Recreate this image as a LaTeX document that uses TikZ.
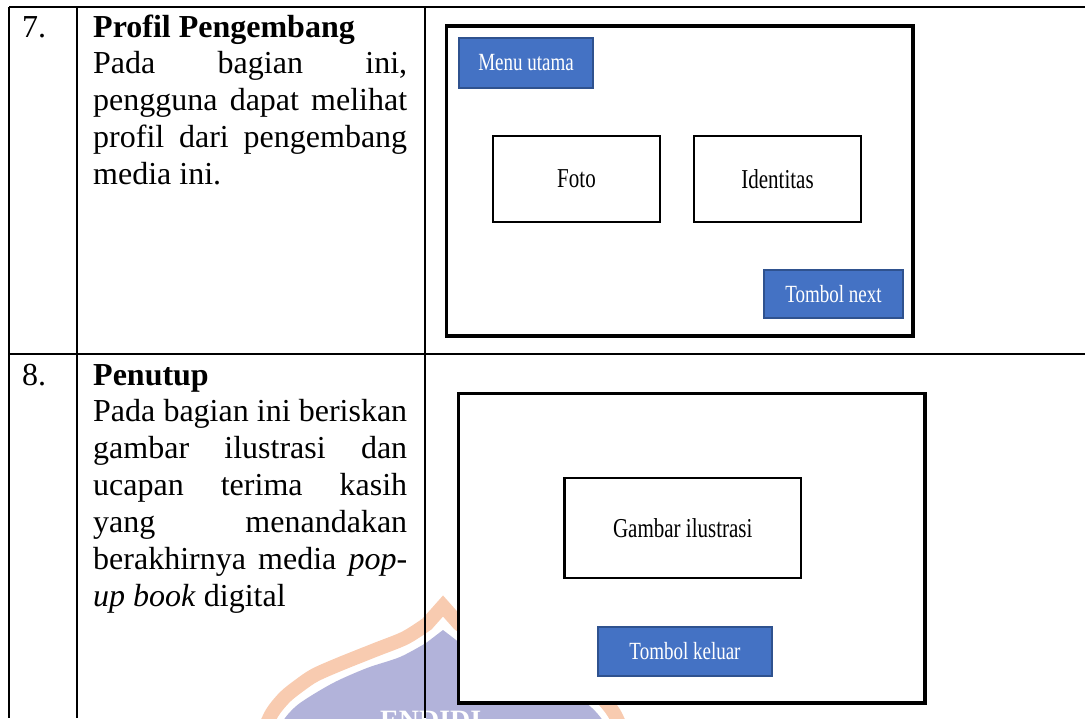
\documentclass[tikz,border=0pt]{standalone}
\usepackage{fontspec}
\setmainfont{Liberation Serif}
\definecolor{btnblue}{HTML}{4472C4}
\definecolor{btnedge}{HTML}{2F528F}
\definecolor{wmorange}{HTML}{F8CBB0}
\definecolor{wmpurple}{HTML}{B2B3DA}
\newcommand\vstretch[1]{\scalebox{1}[1.3]{#1}}
\newcommand\jline[1]{\makebox[314pt][s]{#1}}
\tikzset{
  grid line/.style={line width=2pt, black},
  frame/.style={draw=black, line width=3.6pt, fill=white, inner sep=0pt},
  whitebox/.style={draw=black, line width=2.2pt, fill=white, inner sep=0pt,
    font=\fontsize{21}{24}\selectfont},
  btn/.style={draw=btnedge, line width=1.5pt, fill=btnblue, text=white, inner sep=0pt,
    font=\fontsize{19}{22}\selectfont},
  body/.style={anchor=base west, inner sep=0pt, font=\fontsize{32}{36.8}\selectfont},
}
\begin{document}
\begin{tikzpicture}[x=1pt,y=-1pt]
\useasboundingbox (0,0) rectangle (1085,718);
% watermark (partly visible logo)
\begin{scope}
  \clip (0,0) rectangle (1085,718);
  \fill[wmpurple] plot[smooth] coordinates {(276,735) (285,718) (300,703) (333,683) (367,668) (400,657) (426,643)}
    -- (443,630) -- plot[smooth] coordinates {(460,643) (486,657) (519,668) (553,683) (586,703) (601,718) (610,735)} -- cycle;
  \draw[wmorange, line width=14pt, line join=miter] plot[smooth] coordinates {(262,735) (272,713) (285,697) (300,685) (315,675) (340,664) (375,650) (405,638) (427,624)}
    -- (443,606) -- plot[smooth] coordinates {(459,624) (481,638) (511,650) (546,664) (571,675) (586,685) (601,697) (614,713) (624,735)};
  \node[anchor=north west, inner sep=0pt, text=white, font=\fontsize{28}{30}\selectfont\bfseries] (wmtext) at (380,711) {ENDIDI};
\end{scope}
% table grid
\coordinate (tl) at (9,7);
\coordinate (tr) at (1085,7);
\coordinate (ml) at (9,354);
\coordinate (mr) at (1085,354);
\coordinate (bl) at (9,718);
\coordinate (c1t) at (77,7);
\coordinate (c1b) at (77,718);
\coordinate (c2t) at (425,7);
\coordinate (c2b) at (425,718);
\draw[grid line] (tl) -- (tr);
\draw[grid line] (ml) -- (mr);
\draw[grid line] (tl) -- (bl);
\draw[grid line] (c1t) -- (c1b);
\draw[grid line] (c2t) -- (c2b);
% row 7 text
\node[body] (n7) at (22,37) {7.};
\node[body] (t7a) at (93,37) {\textbf{Profil Pengembang}};
\node[body] (t7b) at (93,73.9) {\jline{Pada bagian ini,}};
\node[body] (t7c) at (93,110.8) {\jline{pengguna dapat melihat}};
\node[body] (t7d) at (93,147.7) {\jline{profil dari pengembang}};
\node[body] (t7e) at (93,184.6) {media ini.};
% row 8 text
\node[body] (n8) at (22,385) {8.};
\node[body] (t8a) at (93,385) {\textbf{Penutup}};
\node[body] (t8b) at (93,421.9) {\jline{Pada bagian ini beriskan}};
\node[body] (t8c) at (93,458.8) {\jline{gambar ilustrasi dan}};
\node[body] (t8d) at (93,495.7) {\jline{ucapan terima kasih}};
\node[body] (t8e) at (93,532.6) {\jline{yang menandakan}};
\node[body] (t8f) at (93,569.5) {\jline{berakhirnya media \textit{pop-}}};
\node[body] (t8g) at (93,606.4) {\textit{up book} digital};
% row 7 mockup
\node[frame, minimum width=466.5pt, minimum height=310pt] (frame7) at (679.75,181) {};
\node[btn, minimum width=134pt, minimum height=50pt] (menu) at (526,63) {\vstretch{Menu utama}};
\node[whitebox, minimum width=167pt, minimum height=86pt] (foto) at (576.5,179) {\vstretch{Foto}};
\node[whitebox, minimum width=167pt, minimum height=86pt] (ident) at (777.5,179) {\vstretch{Identitas}};
\node[btn, minimum width=139pt, minimum height=48pt] (next) at (833.5,294) {\vstretch{Tombol next}};
% row 8 mockup
\node[frame, minimum width=466.4pt, minimum height=309.7pt] (frame8) at (691.5,548.15) {};
\node[whitebox, minimum width=236.5pt, minimum height=100pt] (gambar) at (682.75,528) {\vstretch{Gambar ilustrasi}};
\node[btn, minimum width=174pt, minimum height=49pt] (keluar) at (685,651.5) {\vstretch{Tombol keluar}};
\end{tikzpicture}
\end{document}
